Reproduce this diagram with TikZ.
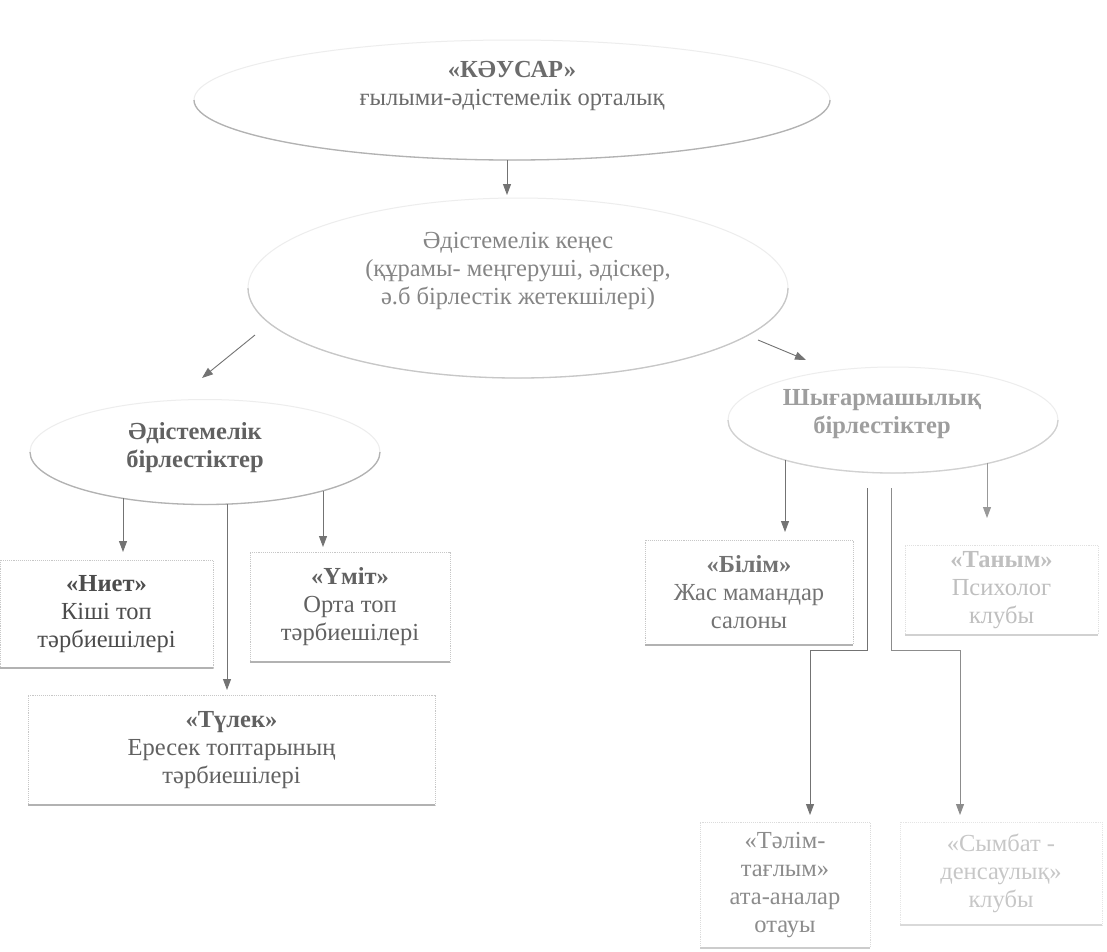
\documentclass[tikz,border=0pt]{standalone}
\usepackage{fontspec}
\setmainfont{Liberation Serif}
\usetikzlibrary{shapes.geometric,arrows.meta}
\begin{document}
\begin{tikzpicture}[x=1pt,y=-1pt,
  ell/.style={ellipse, draw=black!7, line width=1pt, inner sep=0pt, outer sep=0pt},
  box/.style={rectangle, draw=black!22, densely dotted, line width=0.9pt, inner sep=0pt, outer sep=0pt},
  txt/.style={font=\fontsize{24.5}{28}\selectfont, align=center, inner sep=0pt},
  rim/.style={draw=black!30, line width=1.3pt},
  arr/.style={draw=black!55, line width=0.9pt, -{Triangle[length=11pt,width=8pt]}},
  ln/.style={draw=black!50, line width=0.9pt}]
\fill[white] (0,0) rectangle (1107,951);
\useasboundingbox (0,0) rectangle (1107,951);

% ellipses
\node[ell, minimum width=636pt, minimum height=120pt] (kausar) at (512,100) {};
\node[txt, text=black!58] (kausarT) at (512,86) {\textbf{«КӘУСАР»}\\ғылыми-әдістемелік орталық};
\draw[rim] (kausar.east) arc[start angle=0, end angle=180, x radius=318, y radius=60];

\node[ell, minimum width=540pt, minimum height=180pt] (council) at (518,288) {};
\node[txt, text=black!48] (councilT) at (518,271) {Әдістемелік кеңес\\(құрамы- меңгеруші, әдіскер,\\ә.б бірлестік жетекшілері)};
\draw[rim, draw=black!22] (council.east) arc[start angle=0, end angle=180, x radius=270, y radius=90];

\node[ell, minimum width=350pt, minimum height=105pt] (metod) at (205,452) {};
\node[txt, text=black!62] (metodT) at (195,448) {\textbf{Әдістемелік}\\\textbf{бірлестіктер}};
\draw[rim] (metod.east) arc[start angle=0, end angle=180, x radius=175, y radius=52.5];

\node[ell, minimum width=330pt, minimum height=106pt] (creat) at (893,420) {};
\node[txt, text=black!38] (creatT) at (882,414) {\textbf{Шығармашылық}\\\textbf{бірлестіктер}};
\draw[rim, draw=black!18] (creat.east) arc[start angle=0, end angle=180, x radius=165, y radius=53];

% boxes
\node[box, txt, text=black!70, minimum width=213pt, minimum height=108pt] (niet) at (106.5,614) {\textbf{«Ниет»}\\Кіші топ\\тәрбиешілері};
\node[box, txt, text=black!62, minimum width=200pt, minimum height=110pt] (umit) at (350,607) {\textbf{«Үміт»}\\Орта топ\\тәрбиешілері};
\node[box, txt, text=black!62, minimum width=407pt, minimum height=110pt] (tulek) at (231.5,750) {\textbf{«Түлек»}\\Ересек топтарының\\тәрбиешілері};
\node[box, txt, text=black!55, minimum width=208pt, minimum height=105pt] (bilim) at (749,592.5) {\textbf{«Білім»}\\Жас мамандар\\салоны};
\node[box, txt, text=black!25, draw=black!12, minimum width=193pt, minimum height=90pt] (tanym) at (1001.5,590) {\textbf{«Таным»}\\Психолог\\клубы};
\node[box, txt, text=black!45, draw=black!14, minimum width=170pt, minimum height=126pt] (talim) at (785,885) {«Тәлім-\\тағлым»\\ата-аналар\\отауы};
\node[box, txt, text=black!22, draw=black!10, minimum width=202pt, minimum height=103pt] (symbat) at (1001,873.5) {«Сымбат -\\денсаулық»\\клубы};

\draw[rim] (niet.south west) -- (niet.south east);
\draw[rim] (umit.south west) -- (umit.south east);
\draw[rim] (tulek.south west) -- (tulek.south east);
\draw[rim] (bilim.south west) -- (bilim.south east);
\draw[rim, draw=black!18] (tanym.south west) -- (tanym.south east);
\draw[rim, draw=black!20] (talim.south west) -- (talim.south east);
\draw[rim, draw=black!15] (symbat.south west) -- (symbat.south east);

% arrows
\draw[arr] ([xshift=-5pt]kausar.south) -- ([xshift=-11pt,yshift=3pt]council.north);
\draw[arr] ([xshift=-263pt,yshift=-47pt]council.center) -- ([xshift=-3pt,yshift=74pt]metod.center);
\draw[arr] ([xshift=240pt,yshift=-52pt]council.center) -- ([xshift=-87pt,yshift=60pt]creat.center);

\coordinate (nietS) at ([xshift=-82pt,yshift=-46pt]metod.center);
\coordinate (umitS) at ([xshift=118pt,yshift=-39pt]metod.center);
\coordinate (tulekS) at ([xshift=22pt,yshift=-52pt]metod.center);
\draw[arr, shorten >=8pt] (nietS) -- (nietS |- niet.north);
\draw[arr, shorten >=5pt] (umitS) -- (umitS |- umit.north);
\draw[arr, shorten >=5pt] (tulekS) -- (tulekS |- tulek.north);

\coordinate (bilimS) at ([xshift=-108pt,yshift=-40pt]creat.center);
\coordinate (tanymS) at ([xshift=94pt,yshift=-43pt]creat.center);
\draw[arr, shorten >=8pt] (bilimS) -- (bilimS |- bilim.north);
\draw[arr, draw=black!40, shorten >=27pt] (tanymS) -- (tanymS |- tanym.north);

\coordinate (c1) at ([xshift=-26pt,yshift=-68pt]creat.center);
\coordinate (c1b) at (c1 |- 0,650);
\coordinate (c2) at ([xshift=-2pt,yshift=-68pt]creat.center);
\coordinate (c2b) at (c2 |- 0,650);
\draw[arr] (c1) -- (c1b) -| ([xshift=25pt,yshift=7pt]talim.north);
\draw[arr, draw=black!45] (c2) -- (c2b) -| ([xshift=-41pt,yshift=7pt]symbat.north);
\end{tikzpicture}
\end{document}
